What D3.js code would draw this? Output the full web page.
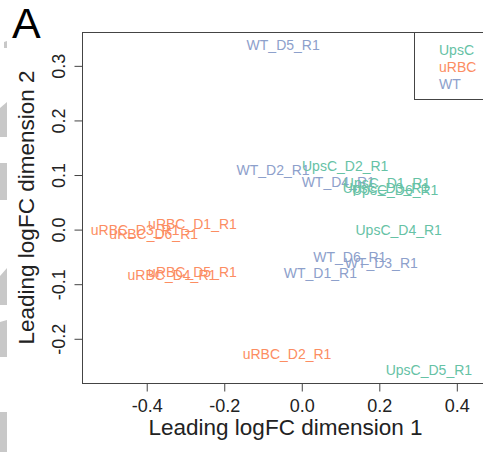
<!DOCTYPE html>
<html><head><meta charset="utf-8">
<script src="https://cdn.jsdelivr.net/npm/d3@7"></script>
<style>body{margin:0;background:#fff}svg{display:block;font-family:"Liberation Sans",Arial,sans-serif}</style>
</head><body><svg id="c" width="483" height="452"></svg>
<script>
const labels = ["WT_D5_R1","WT_D2_R1","UpsC_D2_R1","WT_D4_R1","UpsC_D1_R1","UpsC_D3_R1","UpsC_D6_R1","UpsC_D4_R1",
  "uRBC_D3_R1","uRBC_D1_R1","uRBC_D6_R1","WT_D6_R1","WT_D3_R1","WT_D1_R1","uRBC_D5_R1","uRBC_D4_R1","uRBC_D2_R1","UpsC_D5_R1"];
const groups = ["WT","WT","UpsC","WT","UpsC","UpsC","UpsC","UpsC",
  "uRBC","uRBC","uRBC","WT","WT","WT","uRBC","uRBC","uRBC","UpsC"];
const dim1 = [-0.048,-0.074,0.112,0.094,0.220,0.217,0.241,0.250,
  -0.430,-0.282,-0.382,0.124,0.205,0.048,-0.282,-0.335,-0.038,0.328];
const dim2 = [0.3385,0.109,0.1165,0.0866,0.085,0.076,0.0725,-0.001,
  0.0,0.010,-0.008,-0.050,-0.061,-0.079,-0.0775,-0.0835,-0.227,-0.258];
const legendGroups = ["UpsC","uRBC","WT"];
const groupColors = ["#66c2a5","#fc8d62","#8da0cb"];
const xTicks = [-0.4,-0.2,0.0,0.2,0.4];
const yTicks = [-0.2,-0.1,0.0,0.1,0.2,0.3];

const svg = d3.select("#c");
const L=82,T=32,R=489,B=383;
const x = d3.scaleLinear().domain([-0.567,0.483]).range([L,R]);
const y = d3.scaleLinear().domain([-0.281,0.362]).range([B,T]);
const color = d3.scaleOrdinal().domain(legendGroups).range(groupColors);

// grey fragments on the left edge
const frags = [[[4,42],[7,41],[7,48],[4,48]],[[0,108],[7,102],[7,137],[0,137]],[[0,163],[7,163],[7,200],[0,200]],
  [[0,276],[7,268],[7,305],[0,305]],[[0,322],[7,320],[7,357],[0,357]],[[0,412],[7,412],[7,452],[0,452]]];
svg.selectAll("polygon.f").data(frags).join("polygon").attr("points",d=>d.map(p=>p.join(",")).join(" ")).attr("fill","#c8c8c8");

svg.append("text").attr("x",12).attr("y",38).attr("font-size",43).attr("fill","#000").text("A");

svg.append("rect").attr("x",L+0.5).attr("y",T+0.5).attr("width",R-L).attr("height",B-T).attr("fill","none").attr("stroke","#444").attr("stroke-width",1);

const xa = svg.append("g").attr("transform",`translate(0,${B+0.5})`)
  .call(d3.axisBottom(x).tickValues(xTicks).tickFormat(d3.format(".1f")).tickSize(8).tickPadding(4));
xa.select(".domain").remove();
xa.selectAll("line").attr("stroke","#444");
xa.selectAll("text").attr("font-size",18).attr("fill","#222").attr("font-family","Liberation Sans, Arial, sans-serif").attr("dy","0.9em").text(d=>d3.format(".1f")(d).replace("−","-"));

const ya = svg.append("g").attr("transform",`translate(${L+0.5},0)`)
  .call(d3.axisLeft(y).tickValues(yTicks).tickFormat(d3.format(".1f")).tickSize(8));
ya.select(".domain").remove();
ya.selectAll("line").attr("stroke","#444");
ya.selectAll("text").remove();
ya.selectAll(".tick").append("text").attr("transform","translate(-18,0) rotate(-90)")
  .attr("text-anchor","middle").attr("font-size",18).attr("fill","#222")
  .attr("font-family","Liberation Sans, Arial, sans-serif").text(d=>d3.format(".1f")(d).replace("−","-"));

svg.append("text").attr("x",(L+R)/2).attr("y",435).attr("text-anchor","middle").attr("font-size",22.5).attr("fill","#222").text("Leading logFC dimension 1");
svg.append("text").attr("transform",`translate(33.5,${(T+B)/2}) rotate(-90)`).attr("text-anchor","middle").attr("font-size",22.5).attr("fill","#222").text("Leading logFC dimension 2");

svg.selectAll("text.pt").data(labels).join("text").attr("class","pt")
  .attr("x",(d,i)=>x(dim1[i])).attr("y",(d,i)=>y(dim2[i])).attr("dy","0.36em")
  .attr("text-anchor","middle").attr("font-size",14).attr("fill",(d,i)=>color(groups[i])).text(d=>d);

// legend
svg.append("rect").attr("x",414.5).attr("y",T+0.5).attr("width",R-414).attr("height",99-T).attr("fill","#fff").attr("stroke","#444");
svg.selectAll("text.lg").data(legendGroups).join("text").attr("class","lg")
  .attr("x",439).attr("y",(d,i)=>50+i*17).attr("dy","0.36em").attr("font-size",14).attr("fill",d=>color(d)).text(d=>d);
</script></body></html>
